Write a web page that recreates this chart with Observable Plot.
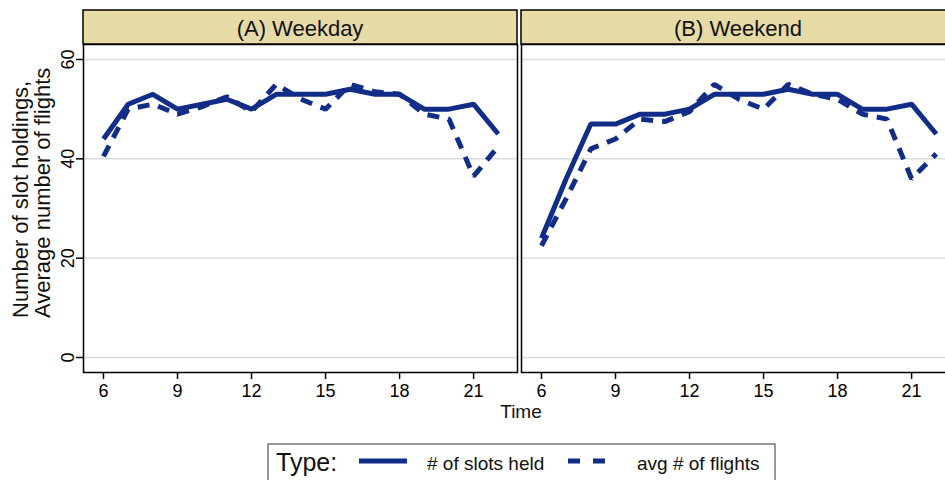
<!DOCTYPE html>
<html>
<head>
<meta charset="utf-8">
<script src="https://cdn.jsdelivr.net/npm/d3@7"></script>
<script src="https://cdn.jsdelivr.net/npm/@observablehq/plot@0.6"></script>
<style>
  body { margin: 0; background: #fff; }
  #wrap { position: relative; width: 945px; height: 480px; overflow: hidden; background: #fff; }
  #wrap > * { position: absolute; }
</style>
</head>
<body>
<div id="wrap"></div>
<script>
// ---------------- data ----------------
const hours = [6, 7, 8, 9, 10, 11, 12, 13, 14, 15, 16, 17, 18, 19, 20, 21, 22];
const weekdaySlots   = [44, 51, 53, 50, 51, 52, 50, 53, 53, 53, 54, 53, 53, 50, 50, 51, 45];
const weekdayFlights = [40.5, 50, 51, 49, 50.5, 52.5, 49.5, 55, 52, 50, 55, 53.5, 53, 49, 48, 36.5, 42.5];
const weekendSlots   = [24, 36, 47, 47, 49, 49, 50, 53, 53, 53, 54, 53, 53, 50, 50, 51, 45];
const weekendFlights = [22.5, 32, 42, 44, 48, 47.5, 49.5, 55, 52, 50, 55, 53, 52, 49, 48, 36, 41];
const panelTitles = ["(A) Weekday", "(B) Weekend"];
const seriesNames = ["# of slots held", "avg # of flights"];
const xTicks = [6, 9, 12, 15, 18, 21];
const yTicks = [0, 20, 40, 60];
const yTitleLines = ["Number of slot holdings,", "Average number of flights"];
const xTitle = "Time";
const legendTitle = "Type:";

// ---------------- style ----------------
const FONT = '"Liberation Sans", Arial, Helvetica, sans-serif';
const COLOR = "#122d88";
const DASH = "12,9";
const STRIP = "#e6daa6";

function panel(slots, flights, showY, width, marginLeft) {
  const rows = hours.flatMap((h, i) => [
    {hour: h, value: slots[i], type: seriesNames[0]},
    {hour: h, value: flights[i], type: seriesNames[1]}
  ]);
  return Plot.plot({
    width, height: 357,
    marginLeft, marginRight: 1, marginTop: 1, marginBottom: 28,
    x: {domain: [5.19, 22.78], axis: null},
    y: {domain: [-3.02, 63.02], axis: null},
    style: {fontFamily: FONT, fontSize: "18px", color: "#000", background: "transparent", overflow: "visible"},
    marks: [
      Plot.ruleY(yTicks, {stroke: "#dcdcdc", strokeWidth: 1.5}),
      Plot.line(rows.filter(d => d.type === seriesNames[0]),
        {x: "hour", y: "value", stroke: COLOR, strokeWidth: 5, strokeLinejoin: "miter", strokeLinecap: "butt"}),
      Plot.line(rows.filter(d => d.type === seriesNames[1]),
        {x: "hour", y: "value", stroke: COLOR, strokeWidth: 5, strokeDasharray: DASH, strokeLinejoin: "miter", strokeLinecap: "butt"}),
      Plot.frame({stroke: "#000", strokeWidth: 1.5}),
      Plot.axisX({ticks: xTicks, tickSize: 7, tickPadding: 5, label: null, strokeWidth: 1.5}),
      showY ? Plot.axisY({ticks: yTicks, tickSize: 7, tickRotate: -90, label: null, strokeWidth: 1.5}) : null
    ]
  });
}

const wrap = document.getElementById("wrap");

const left = panel(weekdaySlots, weekdayFlights, true, 518, 83);
left.style.left = "0px"; left.style.top = "43px";
wrap.appendChild(left);

const right = panel(weekendSlots, weekendFlights, false, 436, 1);
right.style.left = "520px"; right.style.top = "43px";
wrap.appendChild(right);

// ---------------- overlay: strips, titles, legend ----------------
const svg = d3.create("svg")
  .attr("width", 945).attr("height", 480)
  .style("left", "0px").style("top", "0px")
  .style("font-family", FONT)
  .style("pointer-events", "none");

const strips = [{x: 83, t: panelTitles[0]}, {x: 521, t: panelTitles[1]}];
for (const s of strips) {
  svg.append("rect").attr("x", s.x).attr("y", 10).attr("width", 434).attr("height", 34)
    .attr("fill", STRIP).attr("stroke", "#000").attr("stroke-width", 1.5);
  svg.append("text").attr("x", s.x + 217).attr("y", 28).attr("text-anchor", "middle")
    .attr("dominant-baseline", "central").attr("font-size", 22).attr("fill", "#111").text(s.t);
}

// y title (two lines, rotated)
[20, 42].forEach((cx, i) => {
  svg.append("text").attr("transform", `translate(${cx},318) rotate(-90)`)
    .attr("text-anchor", "start").attr("dominant-baseline", "central")
    .attr("font-size", 22).attr("fill", "#111").text(yTitleLines[i]);
});

// x title
svg.append("text").attr("x", 521).attr("y", 411).attr("text-anchor", "middle")
  .attr("dominant-baseline", "central").attr("font-size", 19).attr("fill", "#111").text(xTitle);

// legend
svg.append("rect").attr("x", 268).attr("y", 444).attr("width", 507).attr("height", 45)
  .attr("fill", "#fff").attr("stroke", "#333").attr("stroke-width", 1);
svg.append("text").attr("x", 276).attr("y", 462).attr("dominant-baseline", "central")
  .attr("font-size", 25).attr("fill", "#111").text(legendTitle);
svg.append("line").attr("x1", 359).attr("x2", 407).attr("y1", 461).attr("y2", 461)
  .attr("stroke", COLOR).attr("stroke-width", 5);
svg.append("text").attr("x", 427).attr("y", 463).attr("dominant-baseline", "central")
  .attr("font-size", 19).attr("fill", "#111").text(seriesNames[0]);
svg.append("line").attr("x1", 568).attr("x2", 605).attr("y1", 461).attr("y2", 461)
  .attr("stroke", COLOR).attr("stroke-width", 5).attr("stroke-dasharray", "12,13");
svg.append("text").attr("x", 637).attr("y", 463).attr("dominant-baseline", "central")
  .attr("font-size", 19).attr("fill", "#111").text(seriesNames[1]);

wrap.appendChild(svg.node());
</script>
</body>
</html>
